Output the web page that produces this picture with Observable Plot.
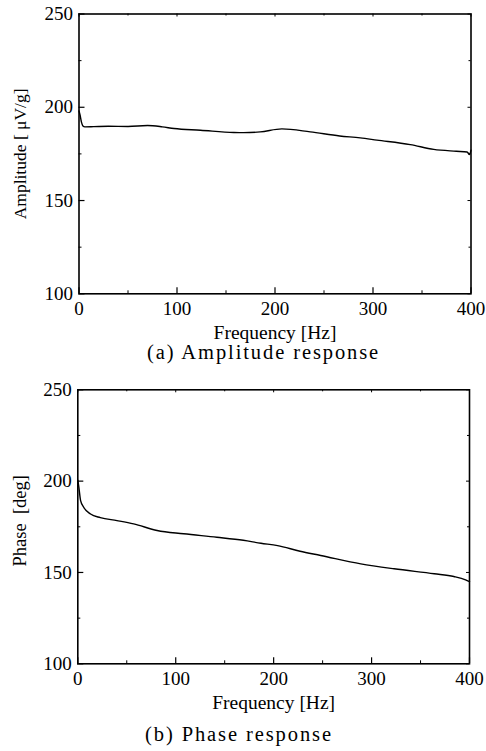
<!DOCTYPE html>
<html>
<head>
<meta charset="utf-8">
<script src="https://cdn.jsdelivr.net/npm/d3@7"></script>
<script src="https://cdn.jsdelivr.net/npm/@observablehq/plot@0.6"></script>
<style>
  html, body { margin: 0; padding: 0; background: #fff; }
  #root { position: relative; width: 486px; height: 751px; overflow: hidden; font-family: "Liberation Serif", "Times New Roman", serif; color: #000; }
  .panel { position: absolute; left: 0; font-family: "Liberation Serif", "Times New Roman", serif !important; }
  .panel text { font-family: "Liberation Serif", "Times New Roman", serif; }
  .cap { position: absolute; font-size: 20.5px; letter-spacing: 1.9px; line-height: 1; white-space: nowrap; }
</style>
</head>
<body>
<div id="root"></div>
<script>
// ---- data ----
const freqAmp = [0, 1, 2.5, 4, 6, 15, 30, 50, 70, 85, 97, 124, 158, 168, 185, 207, 236, 266, 287, 304, 338, 362, 385, 396, 398.5, 400];
const amplitude = [198, 196, 192, 190, 189.5, 189.6, 189.8, 189.7, 190.2, 189.5, 188.6, 187.7, 186.5, 186.4, 186.8, 188.4, 186.8, 184.6, 183.6, 182.4, 180, 177.4, 176.4, 176, 174.7, 177];

const freqPhase = [0, 1, 2.8, 6, 13, 23, 40, 57, 81, 108, 142, 169, 187, 204, 227, 248, 289, 323, 364, 384, 396, 400];
const phase = [200.5, 197, 189.5, 185.7, 182, 180, 178.4, 176.6, 173, 171.2, 169.3, 167.6, 166, 164.7, 161.6, 159.3, 154.7, 152, 149.3, 147.8, 146, 145];

const xTicks = [0, 100, 200, 300, 400];
const xMinor = [50, 150, 250, 350];
const yTicks = [100, 150, 200, 250];
const yMinor = [125, 175, 225];

const xLabel = "Frequency [Hz]";
const panels = [
  {freq: freqAmp, vals: amplitude, ylabel: "Amplitude [ μV/g]", caption: "(a)  Amplitude response",
   top: 0, mt: 13.5, ml: 78.5, mr: 15.5, capTop: 342, capLeft: 147, yfs: 17.5, ydy: 0},
  {freq: freqPhase, vals: phase, ylabel: "Phase  [deg]", caption: "(b)  Phase response",
   top: 370, mt: 19.3, ml: 77.3, mr: 17, capTop: 724, capLeft: 145, yfs: 18.5, ydy: -6}
];

const FF = "'Liberation Serif', 'Times New Roman', serif";
const root = document.getElementById("root");
const W = 486, H = 345, MB = 51.7;

for (const p of panels) {
  const data = p.freq.map((f, i) => ({f, v: p.vals[i]}));
  const pw = W - p.ml - p.mr, ph = H - p.mt - MB;
  const maj = 6, mn = 3;
  const chart = Plot.plot({
    width: W, height: H,
    marginTop: p.mt, marginBottom: MB, marginLeft: p.ml, marginRight: p.mr,
    style: {fontFamily: FF, fontSize: "18px", color: "#000", background: "#fff"},
    x: {domain: [0, 400]},
    y: {domain: [100, 250]},
    marks: [
      Plot.frame({stroke: "#000", strokeWidth: 1.6}),
      // inward ticks bottom/top
      Plot.tickX(xTicks, {x: d => d, insetTop: ph - maj, stroke: "#000", strokeWidth: 1.2}),
      Plot.tickX(xMinor, {x: d => d, insetTop: ph - mn, stroke: "#000", strokeWidth: 1}),
      Plot.tickX(xTicks, {x: d => d, insetBottom: ph - mn, stroke: "#000", strokeWidth: 1}),
      Plot.tickX(xMinor, {x: d => d, insetBottom: ph - 2, stroke: "#000", strokeWidth: 1}),
      // inward ticks left/right
      Plot.tickY(yTicks, {y: d => d, insetRight: pw - maj, stroke: "#000", strokeWidth: 1.2}),
      Plot.tickY(yMinor, {y: d => d, insetRight: pw - mn, stroke: "#000", strokeWidth: 1}),
      Plot.tickY(yTicks, {y: d => d, insetLeft: pw - mn, stroke: "#000", strokeWidth: 1}),
      Plot.tickY(yMinor, {y: d => d, insetLeft: pw - 2, stroke: "#000", strokeWidth: 1}),
      Plot.axisX(xTicks, {tickSize: 0, tickPadding: 8, label: null, fontSize: 19, fontFamily: FF, fill: "#000"}),
      Plot.axisY(yTicks, {tickSize: 0, tickPadding: 6, label: null, fontSize: 19, fontFamily: FF, fill: "#000"}),
      Plot.line(data, {x: "f", y: "v", stroke: "#000", strokeWidth: 1.4, curve: "monotone-x"}),
      Plot.text([xLabel], {text: d => d, frameAnchor: "bottom", lineAnchor: "middle", textAnchor: "middle", dy: 38.6, fontSize: 19.5, fontFamily: FF, fill: "#000"}),
      Plot.text([p.ylabel], {text: d => d, frameAnchor: "left", textAnchor: "middle", lineAnchor: "middle", dx: -(p.ml - 20), dy: p.ydy, rotate: -90, fontSize: p.yfs, fontFamily: FF, fill: "#000"})
    ]
  });
  chart.classList.add("panel");
  chart.style.top = p.top + "px";
  root.appendChild(chart);
  const cap = document.createElement("div");
  cap.className = "cap";
  cap.textContent = p.caption;
  cap.style.top = p.capTop + "px";
  cap.style.left = p.capLeft + "px";
  root.appendChild(cap);
}
</script>
</body>
</html>
